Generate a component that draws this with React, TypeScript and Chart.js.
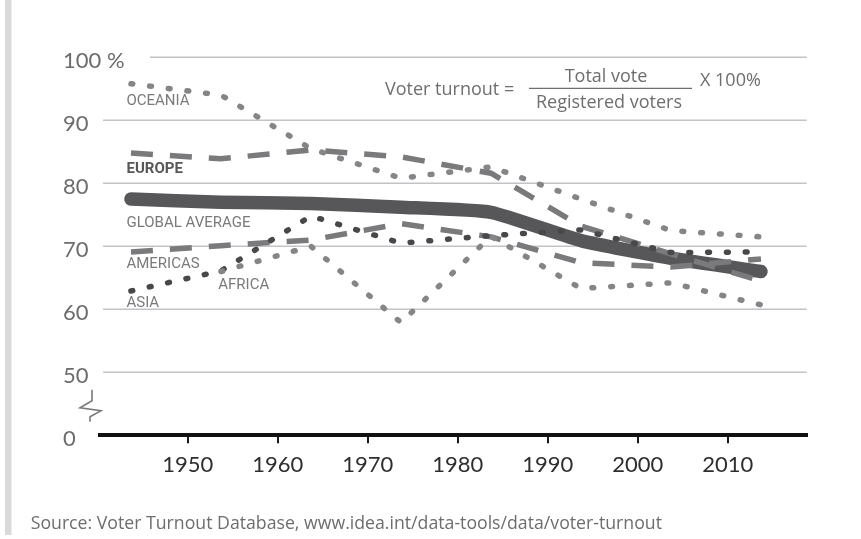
import { useEffect, useRef } from "react";
import { Chart, registerables } from "chart.js";

Chart.register(...registerables);

// ---- data ----
const periodYears = [1943.7, 1953.7, 1963.7, 1973.7, 1983.7, 1993.7, 2003.7, 2013.7];
const globalAverage = [77.5, 77.0, 76.8, 76.2, 75.4, 70.9, 68.1, 66.0];
const europe = [84.8, 83.9, 85.3, 84.2, 81.6, 73.2, 68.8, 64.5];
const oceania = [95.8, 94.0, 85.5, 80.8, 82.6, 77.5, 72.5, 71.5];
const americas = [69.1, 70.1, 71.0, 73.6, 71.5, 67.4, 66.7, 68.0];
const asia = [62.9, 66.1, 74.8, 70.5, 71.7, 72.6, 69.0, 69.1];
const africaYears = [1953.7, 1963.7, 1973.7, 1983.7, 1993.7, 2003.7, 2013.7];
const africa = [66.0, 70.0, 57.9, 71.6, 63.3, 64.2, 60.7];

const xTickYears = [1950, 1960, 1970, 1980, 1990, 2000, 2010];
const yTickValues = [40, 50, 60, 70, 80, 90, 100];
const yTickLabels = ["0", "50", "60", "70", "80", "90", "100 %"];

const seriesLabelTexts = ["OCEANIA", "EUROPE", "GLOBAL AVERAGE", "AMERICAS", "AFRICA", "ASIA"];
const formulaLeft = "Voter turnout =";
const formulaTop = "Total vote";
const formulaBottom = "Registered voters";
const formulaRight = "X 100%";
const sourceText = "Source: Voter Turnout Database, www.idea.int/data-tools/data/voter-turnout";

// ---- styles ----
const LIGHT_DOT = "#858588";
const DARK_DOT = "#48484b";
const DASH = "#7a7a7d";
const GLOBAL = "#57575a";
const TEXT_GRAY = "#6e6e71";

const pts = (xs: number[], ys: number[]) => ys.map((v, i) => ({ x: xs[i], y: v }));

const dotted = (color: string) => ({
  borderColor: color,
  borderWidth: 5.5,
  borderDash: [1.8, 17],
  borderCapStyle: "round" as const,
  borderJoinStyle: "round" as const,
  pointRadius: 0,
  tension: 0,
  fill: false,
});
const dashed = {
  borderColor: DASH,
  borderWidth: 5.5,
  borderDash: [22, 17],
  borderCapStyle: "butt" as const,
  pointRadius: 0,
  tension: 0,
  fill: false,
};

// label anchors in data space (year, value)
const labelAnchors = [
  { year: 1943.2, value: 92.95, bold: false },
  { year: 1943.2, value: 82.25, bold: true },
  { year: 1943.2, value: 73.6, bold: false },
  { year: 1943.2, value: 67.1, bold: false },
  { year: 1953.4, value: 63.85, bold: false },
  { year: 1943.2, value: 60.9, bold: false },
];

const decorPlugin = {
  id: "decor",
  beforeDraw(chart: any) {
    const { ctx } = chart;
    ctx.save();
    ctx.fillStyle = "#ffffff";
    ctx.fillRect(0, 0, chart.width, chart.height);
    ctx.fillStyle = "#dadada";
    ctx.fillRect(5, 0, 6.5, 535);
    ctx.restore();
  },
  beforeDatasetsDraw(chart: any) {
    const { ctx, chartArea } = chart;
    const y = chart.scales.y;
    ctx.save();
    // gridlines
    ctx.strokeStyle = "#c3c3c7";
    ctx.lineWidth = 1.4;
    yTickValues.forEach((v) => {
      if (v === yTickValues[0]) return;
      const py = y.getPixelForValue(v);
      const startX = v === yTickValues[yTickValues.length - 1] ? chartArea.left + 50 : chartArea.left + 3;
      ctx.beginPath();
      ctx.moveTo(startX, py);
      ctx.lineTo(chartArea.right, py);
      ctx.stroke();
    });
    // y tick labels (left aligned)
    ctx.font = "22px Lato";
    ctx.fillStyle = "#6c6c6f";
    ctx.textAlign = "left";
    ctx.textBaseline = "middle";
    yTickValues.forEach((v, i) => {
      ctx.fillText(yTickLabels[i], y.left, y.getPixelForValue(v) + 4);
    });
    // axis break symbol between the first two ticks
    const yTop = y.getPixelForValue(50);
    const yBot = y.getPixelForValue(40);
    const mid = (yTop + yBot) / 2;
    const bx = chartArea.left - 8;
    ctx.strokeStyle = "#7a7a7c";
    ctx.lineWidth = 1.6;
    ctx.beginPath();
    ctx.moveTo(bx, mid - 14);
    ctx.lineTo(bx, mid - 3);
    ctx.lineTo(bx - 12, mid + 4);
    ctx.lineTo(bx + 9, mid + 7);
    ctx.lineTo(bx - 2, mid + 13);
    ctx.lineTo(bx - 2, mid + 18);
    ctx.stroke();
    ctx.restore();
  },
  afterDatasetsDraw(chart: any) {
    const { ctx } = chart;
    const x = chart.scales.x;
    const y = chart.scales.y;
    ctx.save();
    ctx.textBaseline = "middle";
    ctx.textAlign = "left";
    labelAnchors.forEach((a, i) => {
      ctx.font = (a.bold ? "bold " : "") + "15px Roboto";
      ctx.fillStyle = a.bold ? "#58585b" : "#7a7a7d";
      ctx.fillText(seriesLabelTexts[i], x.getPixelForValue(a.year), y.getPixelForValue(a.value));
    });

    // formula
    ctx.fillStyle = TEXT_GRAY;
    ctx.textBaseline = "alphabetic";
    ctx.font = "18px 'Open Sans'";
    ctx.textAlign = "left";
    ctx.fillText(formulaLeft, 385, 95);
    ctx.textAlign = "center";
    ctx.fillText(formulaTop, 606, 81.7);
    ctx.fillText(formulaBottom, 609, 108.3);
    ctx.textAlign = "left";
    ctx.fillText(formulaRight, 700, 86);
    ctx.strokeStyle = TEXT_GRAY;
    ctx.lineWidth = 1.3;
    ctx.beginPath();
    ctx.moveTo(529, 88.3);
    ctx.lineTo(692, 88.3);
    ctx.stroke();

    // source
    ctx.font = "17.7px 'Open Sans'";
    ctx.fillStyle = "#6d6d70";
    ctx.textAlign = "left";
    ctx.fillText(sourceText, 30.7, 529.3);
    ctx.restore();
  },
};

export default function App() {
  const canvasRef = useRef<HTMLCanvasElement | null>(null);

  useEffect(() => {
    const canvas = canvasRef.current;
    if (!canvas) return;
    const chart = new Chart(canvas, {
      type: "line",
      data: {
        datasets: [
          { label: "Oceania", data: pts(periodYears, oceania), ...dotted(LIGHT_DOT) },
          { label: "Africa", data: pts(africaYears, africa), ...dotted(LIGHT_DOT) },
          { label: "Asia", data: pts(periodYears, asia), ...dotted(DARK_DOT) },
          { label: "Europe", data: pts(periodYears, europe), ...dashed },
          { label: "Americas", data: pts(periodYears, americas), ...dashed },
          {
            label: "Global average",
            data: pts(periodYears, globalAverage),
            borderColor: GLOBAL,
            borderWidth: 13.5,
            borderCapStyle: "round",
            borderJoinStyle: "round",
            pointRadius: 0,
            tension: 0.15,
            fill: false,
          },
        ] as any,
      },
      options: {
        animation: false,
        responsive: false,
        devicePixelRatio: 1,
        layout: { padding: { left: 63, right: 54.3, top: 57.3, bottom: 43.7 } },
        plugins: {
          legend: { display: false },
          tooltip: { enabled: false },
        },
        scales: {
          x: {
            type: "linear",
            min: 1940.26,
            max: 2018.78,
            afterBuildTicks: (s: any) => {
              s.ticks = xTickYears.map((v) => ({ value: v }));
            },
            afterFit: (s: any) => {
              s.height = 60;
            },
            ticks: {
              font: { family: "Lato", size: 22 },
              color: "#2e2e30",
              padding: 8,
              maxRotation: 0,
              autoSkip: false,
              callback: (v: any) => String(v),
            },
            grid: {
              drawOnChartArea: false,
              drawTicks: true,
              tickLength: 8,
              color: "#1a1a1a",
              lineWidth: 2,
            },
            border: { display: true, color: "#111111", width: 4 },
          },
          y: {
            type: "linear",
            min: 40,
            max: 100,
            afterBuildTicks: (s: any) => {
              s.ticks = yTickValues.map((v) => ({ value: v }));
            },
            afterFit: (s: any) => {
              s.width = 37;
            },
            ticks: { display: false },
            grid: { display: false, drawTicks: false },
            border: { display: false },
          },
        },
      } as any,
      plugins: [decorPlugin],
    });
    return () => chart.destroy();
  }, []);

  return (
    <div style={{ position: "fixed", left: 0, top: 0, width: 861, height: 539, background: "#fff" }}>
      <canvas ref={canvasRef} width={861} height={539} style={{ display: "block", width: 861, height: 539 }} />
    </div>
  );
}
